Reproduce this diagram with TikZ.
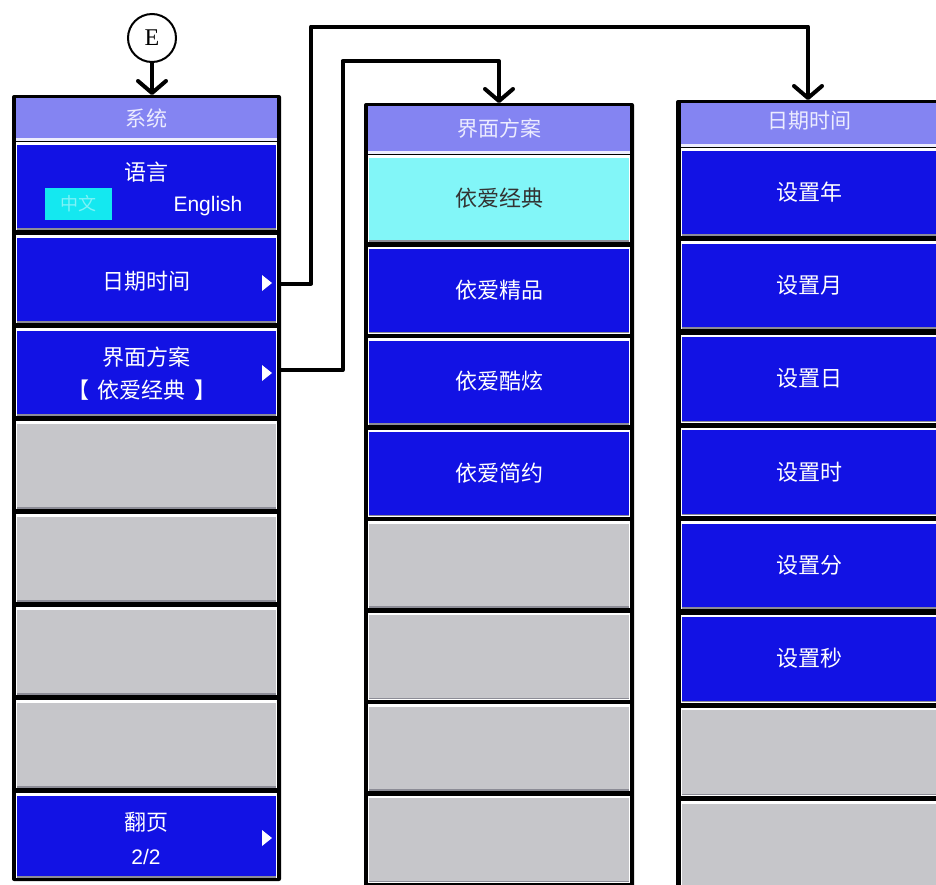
\documentclass[tikz,border=0pt]{standalone}
\usepackage{fontspec}
\newfontfamily\cjk{Noto Sans CJK SC}
\newfontfamily\lsans{Liberation Sans}
\newfontfamily\lserif{Liberation Serif}
\usetikzlibrary{arrows.meta}
\definecolor{btnblue}{RGB}{18,18,228}
\definecolor{ttlblue}{RGB}{132,132,242}
\definecolor{hlcyan}{RGB}{130,246,248}
\definecolor{boxcyan}{RGB}{20,232,240}
\definecolor{cellgray}{RGB}{198,198,202}
\definecolor{edgegray}{RGB}{140,140,150}
\definecolor{ttltext}{RGB}{236,236,255}
\newcommand\mkcell[6]{%
  \fill[white] (#2,#4) rectangle (#3,#4+#5);
  \fill[#6] (#2+1,#4+2.5) rectangle (#3-1,#4+#5-2);
  \draw[edgegray,line width=1.5pt] (#2+1,#4+#5-1.2) -- (#3-1,#4+#5-1.2);
  \coordinate (#1) at ({(#2+#3)/2},{#4+#5/2});
}
\tikzset{
  conn/.style={line width=4pt,line join=round,
    -{Straight Barb[length=12pt,width=28pt,line width=4pt,round]}},
  wtxt/.style={text=white,inner sep=0pt,font=\cjk\fontsize{22}{26}\selectfont},
  ktxt/.style={text=black!80,inner sep=0pt,font=\cjk\fontsize{22}{26}\selectfont},
  ttxt/.style={text=ttltext,inner sep=0pt,font=\cjk\fontsize{21}{25}\selectfont},
  stxt/.style={text=white,inner sep=0pt,font=\lsans\fontsize{21}{25}\selectfont},
  subtri/.style={fill=white,draw=none},
  ecircle/.style={circle,draw,line width=2pt,minimum size=48pt,inner sep=0pt,
    font=\lserif\fontsize{24}{28}\selectfont},
}
\begin{document}
\begin{tikzpicture}[x=1pt,y=-1pt]
\useasboundingbox (0,0) rectangle (936,884);
\clip (0,0) rectangle (936,884);
% ---------------- left panel: system ----------------
\fill[black,rounded corners=2pt] (12,95) rectangle (281,881);
\fill[ttlblue] (16,98) rectangle (277,139);
\fill[white!85!ttlblue] (16,138) rectangle (277,140.5);
\coordinate (ltitle) at (146.5,118);
\node[ttxt] (t-sys) at (ltitle) {系统};
\mkcell{llang}{16}{277}{142}{88}{btnblue}
\mkcell{ldt}{16}{277}{235}{88}{btnblue}
\mkcell{lui}{16}{277}{328}{88}{btnblue}
\mkcell{lg1}{16}{277}{421}{88}{cellgray}
\mkcell{lg2}{16}{277}{514}{88}{cellgray}
\mkcell{lg3}{16}{277}{607}{88}{cellgray}
\mkcell{lg4}{16}{277}{700}{88}{cellgray}
\mkcell{lpg}{16}{277}{793}{85}{btnblue}
\node[wtxt] (t-lang) at (146,172) {语言};
\node[fill=boxcyan,minimum width=67pt,minimum height=32pt,inner sep=0pt,
  text=white!45!boxcyan,font=\cjk\fontsize{18}{20}\selectfont] (t-zh) at (78.5,204) {中文};
\node[stxt] (t-en) at (208,206) {English};
\node[wtxt] (t-dt) at (146,281) {日期时间};
\node[wtxt] (t-ui) at (146,357) {界面方案};
\node[wtxt] (t-uic) at (142,390) {【\hspace{9pt}依爱经典\hspace{9pt}】};
\node[wtxt] (t-pg) at (146,822) {翻页};
\node[stxt] (t-pgn) at (146,857) {2/2};
\fill[subtri] (262,275) -- (272,283) -- (262,291) -- cycle;
\fill[subtri] (262,365) -- (272,373) -- (262,381) -- cycle;
\fill[subtri] (262,830) -- (272,838) -- (262,846) -- cycle;
% ---------------- middle panel: UI scheme ----------------
\fill[black,rounded corners=2pt] (364,103) rectangle (634,900);
\fill[ttlblue] (368,106) rectangle (630,152);
\fill[white!85!ttlblue] (368,151) rectangle (630,153.5);
\coordinate (mtitle) at (499,129);
\node[ttxt] (t-mui) at (mtitle) {界面方案};
\mkcell{m1}{368}{630}{155}{87}{hlcyan}
\mkcell{m2}{368}{630}{246.5}{87}{btnblue}
\mkcell{m3}{368}{630}{338}{87}{btnblue}
\mkcell{m4}{368}{630}{429.5}{87}{btnblue}
\mkcell{m5}{368}{630}{521}{87}{cellgray}
\mkcell{m6}{368}{630}{612.5}{87}{cellgray}
\mkcell{m7}{368}{630}{704}{87}{cellgray}
\mkcell{m8}{368}{630}{795.5}{87}{cellgray}
\node[ktxt] (t-m1) at (m1) {依爱经典};
\node[wtxt] (t-m2) at (m2) {依爱精品};
\node[wtxt] (t-m3) at (m3) {依爱酷炫};
\node[wtxt] (t-m4) at (m4) {依爱简约};
% ---------------- right panel: date time ----------------
\fill[black,rounded corners=2pt] (676,100) rectangle (950,900);
\fill[ttlblue] (681,103) rectangle (950,145);
\fill[white!85!ttlblue] (681,144) rectangle (950,146.5);
\node[ttxt] (t-rdt) at (809,121) {日期时间};
\mkcell{r1}{681}{950}{148}{88}{btnblue}
\mkcell{r2}{681}{950}{241.3}{88}{btnblue}
\mkcell{r3}{681}{950}{334.6}{88}{btnblue}
\mkcell{r4}{681}{950}{427.9}{88}{btnblue}
\mkcell{r5}{681}{950}{521.2}{88}{btnblue}
\mkcell{r6}{681}{950}{614.5}{88}{btnblue}
\mkcell{r7}{681}{950}{707.8}{88}{cellgray}
\mkcell{r8}{681}{950}{801.1}{88}{cellgray}
\node[wtxt,xshift=-6.5pt] (t-r1) at (r1) {设置年};
\node[wtxt,xshift=-6.5pt] (t-r2) at (r2) {设置月};
\node[wtxt,xshift=-6.5pt] (t-r3) at (r3) {设置日};
\node[wtxt,xshift=-6.5pt] (t-r4) at (r4) {设置时};
\node[wtxt,xshift=-6.5pt] (t-r5) at (r5) {设置分};
\node[wtxt,xshift=-6.5pt] (t-r6) at (r6) {设置秒};
% ---------------- connectors ----------------
\node[ecircle] (E) at (152,38) {E};
\coordinate (lin) at (152,95);
\coordinate (min) at (499,103);
\coordinate (rin) at (808,100);
\coordinate (ldtout) at (279,283.5);
\coordinate (luiout) at (279,370);
\coordinate (c1) at (311,26.5);
\coordinate (c2) at (342.5,61);
\draw[conn] (E.south) -- (lin);
\draw[conn] (ldtout) -| (c1) -| (rin);
\draw[conn] (luiout) -| (c2) -| (min);
\end{tikzpicture}
\end{document}
